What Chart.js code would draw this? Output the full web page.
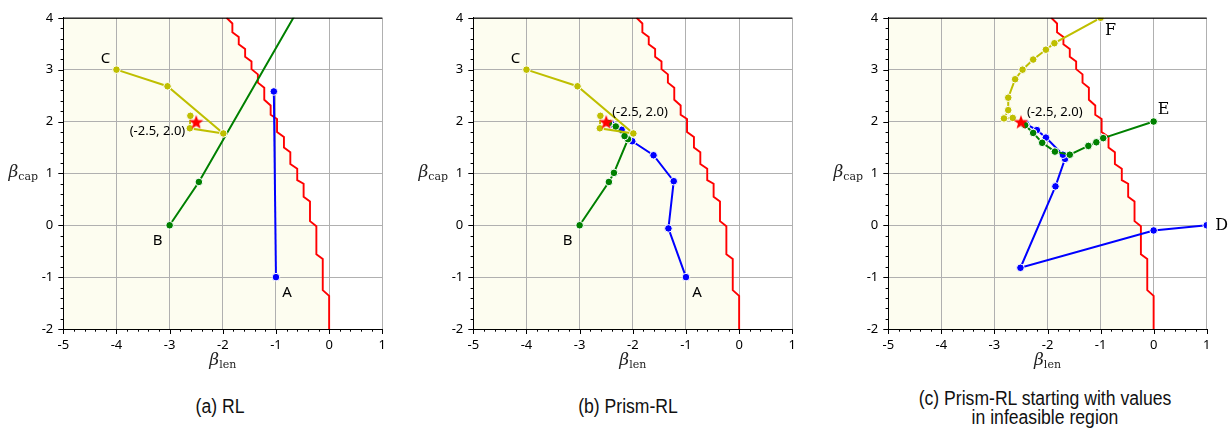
<!DOCTYPE html>
<html>
<head>
<meta charset="utf-8">
<script src="https://cdn.jsdelivr.net/npm/chart.js@4.4.1/dist/chart.umd.min.js"></script>
<style>
    body { margin: 0; background: #fff; width: 1232px; height: 437px; position: relative; overflow: hidden; }
    .panel { position: absolute; top: 0; }
    .cap {
        position: absolute; text-align: center; color: #111;
        font-family: "Liberation Sans Narrow", "Liberation Sans", sans-serif;
        font-size: 20px; line-height: 19px;
        transform: scaleX(0.88); transform-origin: center;
    }
</style>
</head>
<body>
<div class="panel" style="left:0px"><canvas id="chartA" width="410" height="380"></canvas></div>
<div class="panel" style="left:410px"><canvas id="chartB" width="410" height="380"></canvas></div>
<div class="panel" style="left:825px"><canvas id="chartC" width="407" height="380"></canvas></div>
<div class="cap" style="left:70px; width:300px; top:397px">(a) RL</div>
<div class="cap" style="left:478px; width:300px; top:397px">(b) Prism-RL</div>
<div class="cap" style="left:895px; width:300px; top:389px">(c) Prism-RL starting with values<br>in infeasible region</div>

<script>
// Оси
const xTicks = [-5, -4, -3, -2, -1, 0, 1];
const yTicks = [-2, -1, 0, 1, 2, 3, 4];

// Граница допустимой области (ступенчатая красная линия)
const boundaryX = [-1.93, -1.82, -1.82, -1.70, -1.70, -1.58, -1.58, -1.46, -1.46, -1.34, -1.34,
    -1.22, -1.22, -1.10, -1.10, -0.98, -0.98, -0.85, -0.85, -0.73, -0.73, -0.60, -0.60,
    -0.48, -0.48, -0.36, -0.36, -0.24, -0.24, -0.12, -0.12, 0.0, 0.0];
const boundaryY = [4.0, 3.89, 3.72, 3.63, 3.49, 3.40, 3.25, 3.16, 3.01, 2.91, 2.75,
    2.65, 2.42, 2.31, 2.13, 2.05, 1.80, 1.70, 1.50, 1.41, 1.18, 1.09, 0.87,
    0.80, 0.55, 0.46, 0.08, -0.02, -0.56, -0.65, -1.25, -1.36, -2.0];

// Целевая точка
const targetX = [-2.5];
const targetY = [2.0];

// (a) RL
const rlAX = [-1.0, -1.04];
const rlAY = [-1.0, 2.58];
const rlBX = [-3.0, -2.45, -0.1];
const rlBY = [0.0, 0.835, 5.02];
const rlCX = [-4.0, -3.04, -1.99, -2.62, -2.61];
const rlCY = [3.0, 2.68, 1.77, 1.87, 2.11];

// (b) Prism-RL
const prAX = [-1.0, -1.33, -1.23, -1.61, -2.01, -2.21, -2.40];
const prAY = [-1.0, -0.06, 0.85, 1.35, 1.62, 1.84, 1.95];
const prBX = [-3.0, -2.45, -2.355, -2.09, -2.155, -2.32, -2.45];
const prBY = [0.0, 0.835, 1.01, 1.66, 1.72, 1.905, 1.97];
const prCX = [-4.0, -3.04, -1.99, -2.62, -2.61];
const prCY = [3.0, 2.68, 1.77, 1.87, 2.11];

// (c) Prism-RL, старт в недопустимой области
const inDX = [1.0, 0.0, -2.51, -1.85, -1.67, -1.71, -2.03, -2.20, -2.40];
const inDY = [0.0, -0.10, -0.82, 0.75, 1.28, 1.36, 1.69, 1.835, 1.95];
const inEX = [0.0, -0.95, -1.08, -1.23, -1.58, -1.86, -2.10, -2.27, -2.42];
const inEY = [2.0, 1.68, 1.60, 1.53, 1.36, 1.42, 1.59, 1.78, 1.93];
const inFX = [-1.0, -1.87, -2.03, -2.27, -2.47, -2.61, -2.74, -2.74, -2.82, -2.655];
const inFY = [4.0, 3.51, 3.385, 3.195, 3.0, 2.815, 2.46, 2.22, 2.06, 2.07];

const BLUE = '#0000ff', GREEN = '#008000', YELLOW = '#bfbf00', RED = '#ff0000';
const FEASIBLE = 'rgb(253,253,240)';

function pts(xs, ys) {
    return xs.map((x, i) => ({ x: x, y: ys[i] }));
}

// Красная звезда (заполненная)
function makeStar(size, color) {
    const c = document.createElement('canvas');
    c.width = c.height = size;
    const ctx = c.getContext('2d');
    const r = size / 2 - 0.5, r2 = r * 0.42;
    ctx.beginPath();
    for (let i = 0; i < 10; i++) {
        const rr = i % 2 ? r2 : r;
        const a = -Math.PI / 2 + i * Math.PI / 5;
        ctx.lineTo(size / 2 + rr * Math.cos(a), size / 2 + 1 + rr * Math.sin(a));
    }
    ctx.closePath();
    ctx.fillStyle = color;
    ctx.fill();
    return c;
}
const star = makeStar(16, RED);

function pathSet(xs, ys, color) {
    return {
        data: pts(xs, ys), borderColor: color, borderWidth: 2,
        pointRadius: 3.8, pointBackgroundColor: color, pointBorderColor: '#fff',
        pointBorderWidth: 1, fill: false, tension: 0
    };
}

// Рисуем деления, рамку, подписи осей и текстовые метки
function decorPlugin(marks, starLabel) {
    return {
        id: 'decor',
        afterDraw(chart) {
            const ctx = chart.ctx;
            const xs = chart.scales.x, ys = chart.scales.y;
            const area = chart.chartArea;
            ctx.save();
            ctx.strokeStyle = '#000';
            ctx.lineWidth = 1;
            // верхняя рамка
            ctx.beginPath();
            ctx.moveTo(area.left, area.top + 0.5);
            ctx.lineTo(area.right, area.top + 0.5);
            ctx.stroke();
            // мелкие и крупные деления
            ctx.beginPath();
            for (let i = 0; i <= 30; i++) {
                const v = xs.min + i * 0.2;
                const px = Math.round(xs.getPixelForValue(v)) + 0.5;
                const len = i % 5 === 0 ? 5 : 2.7;
                ctx.moveTo(px, area.bottom);
                ctx.lineTo(px, area.bottom + len);
                const w = ys.min + i * 0.2;
                const py = Math.round(ys.getPixelForValue(w)) + 0.5;
                ctx.moveTo(area.left, py);
                ctx.lineTo(area.left - len, py);
            }
            ctx.stroke();

            // подписи осей: beta_len, beta_cap
            const drawSym = (sub, x, y, align) => {
                ctx.font = 'italic 17px "DejaVu Serif"';
                const w1 = ctx.measureText('β').width;
                ctx.font = '11px "DejaVu Serif"';
                const w2 = ctx.measureText(sub).width;
                let x0 = align === 'center' ? x - (w1 + w2) / 2 : x - (w1 + w2);
                ctx.fillStyle = '#222';
                ctx.textAlign = 'left';
                ctx.textBaseline = 'alphabetic';
                ctx.font = 'italic 17px "DejaVu Serif"';
                ctx.fillText('β', x0, y);
                ctx.font = '11px "DejaVu Serif"';
                ctx.fillText(sub, x0 + w1, y + 3);
            };
            drawSym('len', (area.left + area.right) / 2, 365, 'center');
            drawSym('cap', 38, (area.top + area.bottom) / 2 + 4, 'right');

            // метки начальных точек
            marks.forEach(m => {
                ctx.font = m.font;
                ctx.fillStyle = '#000';
                ctx.textAlign = 'center';
                ctx.textBaseline = 'middle';
                ctx.fillText(m.text, xs.getPixelForValue(m.x) + m.dx, ys.getPixelForValue(m.y) + m.dy);
            });

            // подпись звезды
            ctx.font = '13px "Noto Sans"';
            ctx.fillStyle = '#000';
            ctx.textAlign = starLabel.align;
            ctx.textBaseline = 'middle';
            ctx.fillText('(' + targetX[0].toFixed(1) + ', ' + targetY[0].toFixed(1) + ')',
                xs.getPixelForValue(targetX[0]) + starLabel.dx,
                ys.getPixelForValue(targetY[0]) + starLabel.dy);
            ctx.restore();
        }
    };
}

function makePanel(id, series, marks, starLabel, padRight) {
    const datasets = [];
    // область допустимых значений (заливка до левого края)
    datasets.push({
        data: pts(boundaryX.concat([xTicks[0], xTicks[0]]), boundaryY.concat([yTicks[0], yTicks[yTicks.length - 1]])),
        borderWidth: 0, pointRadius: 0, fill: 'shape', backgroundColor: FEASIBLE, order: 10
    });
    datasets.push({
        data: pts(boundaryX, boundaryY), borderColor: RED, borderWidth: 1.9,
        pointRadius: 0, fill: false, order: 9
    });
    series.forEach((s, i) => {
        const d = pathSet(s[0], s[1], s[2]);
        d.order = 5 - i;
        datasets.push(d);
    });
    datasets.push({
        data: pts(targetX, targetY), showLine: false, pointStyle: star,
        pointRadius: 8, order: 0
    });

    new Chart(document.getElementById(id), {
        type: 'line',
        data: { datasets: datasets },
        options: {
            responsive: false,
            animation: false,
            events: [],
            layout: { padding: { left: 0, right: padRight, top: 13.3, bottom: 21 } },
            plugins: {
                legend: { display: false },
                tooltip: { enabled: false },
                filler: { drawTime: 'beforeDraw' }
            },
            scales: {
                x: {
                    type: 'linear', min: xTicks[0], max: xTicks[xTicks.length - 1],
                    ticks: { stepSize: 1, padding: 8, color: '#000', font: { family: 'Noto Sans', size: 13 } },
                    grid: { color: '#b0b0b0', lineWidth: 1, drawTicks: false },
                    border: { color: '#000', width: 1 },
                    afterFit: scale => { scale.height = 30; }
                },
                y: {
                    type: 'linear', min: yTicks[0], max: yTicks[yTicks.length - 1],
                    ticks: { stepSize: 1, padding: 10, color: '#000', font: { family: 'Noto Sans', size: 13 } },
                    grid: { color: '#b0b0b0', lineWidth: 1, drawTicks: false },
                    border: { color: '#000', width: 1 },
                    afterFit: scale => { scale.width = 63.3; }
                }
            }
        },
        plugins: [decorPlugin(marks, starLabel)]
    });
}

const sansMark = '15px "Noto Sans"';
const serifMark = '16px "DejaVu Serif"';

makePanel('chartA',
    [[rlAX, rlAY, BLUE], [rlBX, rlBY, GREEN], [rlCX, rlCY, YELLOW]],
    [
        { text: 'A', x: rlAX[0], y: rlAY[0], dx: 11, dy: 16, font: sansMark },
        { text: 'B', x: rlBX[0], y: rlBY[0], dx: -12, dy: 15, font: sansMark },
        { text: 'C', x: rlCX[0], y: rlCY[0], dx: -11, dy: -11, font: sansMark }
    ],
    { align: 'right', dx: -11, dy: 10 }, 27.7);

makePanel('chartB',
    [[prAX, prAY, BLUE], [prBX, prBY, GREEN], [prCX, prCY, YELLOW]],
    [
        { text: 'A', x: prAX[0], y: prAY[0], dx: 11, dy: 16, font: sansMark },
        { text: 'B', x: prBX[0], y: prBY[0], dx: -12, dy: 15, font: sansMark },
        { text: 'C', x: prCX[0], y: prCY[0], dx: -11, dy: -11, font: sansMark }
    ],
    { align: 'left', dx: 6, dy: -9 }, 27.7);

makePanel('chartC',
    [[inDX, inDY, BLUE], [inEX, inEY, GREEN], [inFX, inFY, YELLOW]],
    [
        { text: 'D', x: inDX[0], y: inDY[0], dx: 15, dy: 1, font: serifMark },
        { text: 'E', x: inEX[0], y: inEY[0], dx: 10, dy: -12, font: serifMark },
        { text: 'F', x: inFX[0], y: inFY[0], dx: 10, dy: 13, font: serifMark }
    ],
    { align: 'left', dx: 6, dy: -9 }, 25.3);
</script>
</body>
</html>
